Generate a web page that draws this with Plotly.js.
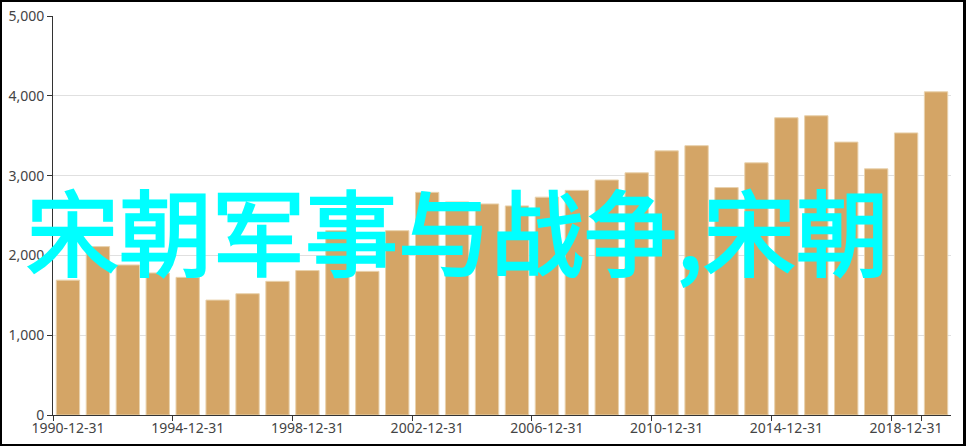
<!DOCTYPE html>
<html>
<head>
<meta charset="utf-8">
<script src="https://cdn.plot.ly/plotly-3.0.1.min.js"></script>
<style>
html,body{margin:0;padding:0;background:#fff;}
#wrap{position:relative;width:966px;height:446px;overflow:hidden;}
#chart{width:966px;height:446px;}
#frame{position:absolute;left:0;top:0;width:966px;height:446px;box-sizing:border-box;border:2px solid #000;border-right-width:3px;pointer-events:none;}
#chart .annotation-text{stroke:#00ffff;stroke-width:2.4px;stroke-linejoin:miter;}
</style>
</head>
<body>
<div id="wrap"><div id="chart"></div><div id="frame"></div></div>
<script>
const categories = ["1990-12-31","1991-12-31","1992-12-31","1993-12-31","1994-12-31","1995-12-31","1996-12-31","1997-12-31","1998-12-31","1999-12-31","2000-12-31","2001-12-31","2002-12-31","2003-12-31","2004-12-31","2005-12-31","2006-12-31","2007-12-31","2008-12-31","2009-12-31","2010-12-31","2011-12-31","2012-12-31","2013-12-31","2014-12-31","2015-12-31","2016-12-31","2017-12-31","2018-12-31","2019-12-31"];
const values = [1690,2110,1880,1780,1725,1440,1520,1675,1810,2310,1800,2310,2790,2670,2645,2620,2730,2815,2945,3035,3310,3375,2850,3160,3725,3750,3420,3085,3535,4050];
const xTickLabels = ["1990-12-31","1994-12-31","1998-12-31","2002-12-31","2006-12-31","2010-12-31","2014-12-31","2018-12-31"];
const yTickValues = [0,1000,2000,3000,4000,5000];
const overlayText = "宋朝军事与战争,宋朝";

const trace = {
  type: "bar",
  x: categories,
  y: values,
  marker: {color: "#d4a566", line: {color: "#e9d2ad", width: 1}},
  hoverinfo: "x+y"
};

const axisFont = {family: "Noto Sans, sans-serif", size: 14, color: "#444"};

const layout = {
  width: 966, height: 446,
  margin: {l: 53, r: 15, t: 16, b: 31, pad: 0},
  paper_bgcolor: "#fff", plot_bgcolor: "#fff",
  showlegend: false,
  bargap: 0.22,
  xaxis: {
    type: "category",
    tickmode: "array",
    tickvals: xTickLabels,
    ticktext: xTickLabels,
    tickson: "boundaries",
    ticks: "outside", ticklen: 5, tickcolor: "#333", tickwidth: 1,
    showline: true, linecolor: "#333", linewidth: 1,
    showgrid: false, zeroline: false,
    tickfont: axisFont,
    tickangle: 0,
    fixedrange: true
  },
  yaxis: {
    range: [0, 5000],
    tickmode: "array",
    tickvals: yTickValues,
    tickformat: ",d",
    ticks: "outside", ticklen: 5, tickcolor: "#333", tickwidth: 1,
    showline: true, linecolor: "#333", linewidth: 1,
    showgrid: true, gridcolor: "#e0e0e0", gridwidth: 1,
    zeroline: false,
    tickfont: axisFont,
    fixedrange: true
  },
  annotations: [{
    text: overlayText,
    xref: "paper", yref: "paper",
    x: (24 - 53) / 898, y: (415 - 228) / 399,
    xanchor: "left", yanchor: "middle",
    showarrow: false,
    font: {family: "Noto Sans CJK SC, sans-serif", size: 93, color: "#00ffff"}
  }]
};

Plotly.newPlot("chart", [trace], layout, {displayModeBar: false, staticPlot: true});
</script>
</body>
</html>
